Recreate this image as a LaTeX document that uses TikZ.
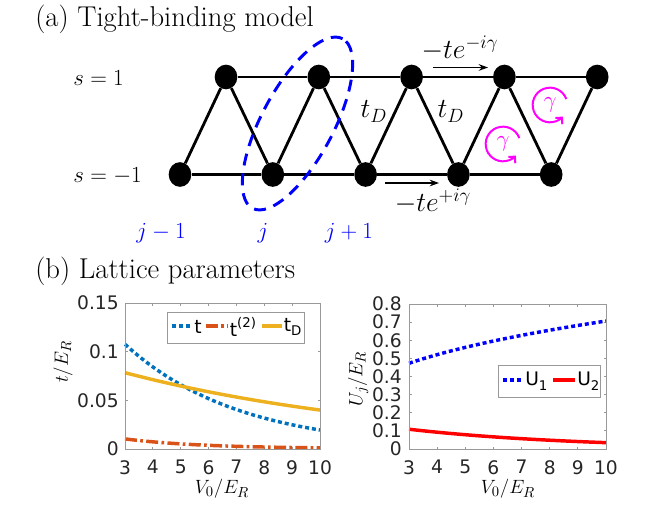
\documentclass[tikz,border=0pt]{standalone}
\usepackage{fontspec}
\newfontfamily\plotfont{DejaVu Sans}
\usetikzlibrary{arrows.meta,shapes.geometric}
\definecolor{mblue}{rgb}{0,0.447,0.741}
\definecolor{morange}{rgb}{0.85,0.325,0.098}
\definecolor{myellow}{rgb}{0.929,0.694,0.125}
\definecolor{mmag}{rgb}{1,0,1}
\definecolor{axgray}{gray}{0.6}
\definecolor{ticktext}{gray}{0.15}
\newcommand\lsub[1]{\raisebox{-0.45ex}{\fontsize{10}{10}\selectfont #1}}
\newcommand\lsup[1]{\raisebox{0.9ex}{\fontsize{10}{10}\selectfont #1}}
\begin{document}
\begin{tikzpicture}[x=0.75pt,y=-0.75pt,
  site/.style={ellipse, fill=black, inner sep=0pt, minimum width=17pt, minimum height=18.5pt},
  bond/.style={line width=2.1pt},
  hop/.style={-{Stealth[length=7pt,width=5pt]}, line width=1pt},
  title/.style={font=\fontsize{21.5}{26}\selectfont, anchor=west, inner sep=0pt},
  slab/.style={font=\fontsize{16}{19}\selectfont, anchor=west, inner sep=0pt},
  bigm/.style={font=\fontsize{22}{26}\selectfont, inner sep=0pt},
  jlab/.style={font=\fontsize{17}{20}\selectfont, text=blue, inner sep=0pt},
  gam/.style={mmag, line width=1.5pt, -{Straight Barb[length=3.5pt,width=7pt]}},
  gamlab/.style={font=\fontsize{18}{20}\selectfont, text=mmag, inner sep=0pt},
  axbox/.style={draw=axgray, line width=0.6pt},
  tk/.style={axgray, line width=0.6pt},
  ticklab/.style={font=\plotfont\fontsize{14}{16}\selectfont, text=ticktext, inner sep=0pt},
  axlab/.style={font=\fontsize{15}{18}\selectfont, inner sep=0pt},
  leg/.style={font=\plotfont\fontsize{14}{16}\selectfont, text=black, inner sep=0pt, anchor=west},
  dotl/.style={line width=2.6pt, dash pattern=on 3pt off 2.2pt},
  dashdotl/.style={line width=2.6pt, dash pattern=on 9pt off 2.5pt on 2pt off 2.5pt},
  solidl/.style={line width=2.6pt}
]
\useasboundingbox (0,0) rectangle (652,516);

% ---------- (a) ----------
\node[title] (ta) at (35,19) {(a) Tight-binding model};
\node[slab] (s1) at (73,78) {$s=1$};
\node[slab] (s2) at (73,176) {$s=-1$};

\foreach \i in {0,...,4}{
  \node[site] (T\i) at ({226+92.8*\i},77) {};
  \node[site] (B\i) at ({180+92.8*\i},174.5) {};
}
\foreach \i/\j in {0/1,1/2,2/3,3/4}{
  \draw[bond] (T\i) -- (T\j);
  \draw[bond] (B\i) -- (B\j);
  \draw[bond] (T\i) -- (B\j);
}
\foreach \i in {0,...,4}{
  \draw[bond] (B\i) -- (T\i);
}

% unit cell
\draw[blue, line width=2.2pt, dash pattern=on 9pt off 6pt, shift={(297.5,123.5)}, rotate=62]
  (0,0) ellipse [x radius=72pt, y radius=27pt];

% hoppings
\coordinate (ua) at (433,67.5);
\coordinate (ub) at (488,67.5);
\draw[hop] (ua) -- (ub);
\coordinate (la) at (385,183);
\coordinate (lb) at (439,183);
\draw[hop] (la) -- (lb);
\node[bigm, anchor=base] (hu) at (460,59) {$-te^{-i\gamma}$};
\node[bigm, anchor=base] (hl) at (433,212) {$-te^{+i\gamma}$};
\node[bigm, anchor=base] (td1) at (374,118) {$t_D$};
\node[bigm, anchor=base] (td2) at (451,118) {$t_D$};

% flux
\coordinate (g1) at (550,105);
\coordinate (g2) at (503,144);
\draw[gam] ([shift={(20:13pt)}]g1) arc[start angle=20, end angle=318, radius=13pt];
\draw[gam] ([shift={(20:13pt)}]g2) arc[start angle=20, end angle=318, radius=13pt];
\node[gamlab] (gl1) at (g1) {$\gamma$};
\node[gamlab] (gl2) at (g2) {$\gamma$};

% cell labels
\node[jlab] (j0) at (161,233) {$j-1$};
\node[jlab] (j1) at (263,233) {$j$};
\node[jlab] (j2) at (349,233) {$j+1$};

% ---------- (b) ----------
\node[title] (tb) at (35,271) {(b) Lattice parameters};

% left axes
\foreach \v in {3,...,10}{
  \draw[tk] ({125+27.857*(\v-3)},449) -- ++(0,-2.5);
  \draw[tk] ({125+27.857*(\v-3)},303) -- ++(0,2.5);
  \node[ticklab, anchor=north] at ({125+27.857*(\v-3)},460) {\v};
}
\foreach \yv/\lab in {0/0,0.05/0.05,0.1/0.1,0.15/0.15}{
  \draw[tk] (125,{449-973.3*\yv}) -- ++(2.5,0);
  \draw[tk] (320,{449-973.3*\yv}) -- ++(-2.5,0);
  \node[ticklab, anchor=east] at (119,{449-973.3*\yv}) {\lab};
}
\draw[dotl, mblue] plot[domain=3:10, samples=60] ({125+27.857*(\x-3)},{449-973.3*0.1076*exp(-0.244*(\x-3))});
\draw[dashdotl, morange] plot[domain=3:10, samples=60] ({125+27.857*(\x-3)},{449-973.3*(0.0100*exp(-0.36*(\x-3))+0.0004)});
\draw[solidl, myellow] plot[domain=3:10, samples=60] ({125+27.857*(\x-3)},{449-973.3*0.0784*exp(-0.0961*(\x-3))});
\draw[axbox] (125,303) rectangle (320,449);
\node[axlab, rotate=90] (yl1) at (63,362) {$t/E_R$};
\node[axlab] (xl1) at (222,489) {$V_0/E_R$};

% left legend
\draw[axbox, fill=white] (167,312) rectangle (304,343);
\draw[dotl, mblue] (172,326) -- (191,326);
\node[leg] at (194,327) {t};
\draw[dashdotl, morange] (206,326) -- (228,326);
\node[leg] at (229.5,327) {t\lsup{(2)}};
\draw[solidl, myellow] (262,326) -- (282,326);
\node[leg] at (283.5,327) {t\lsub{D}};

% right axes
\foreach \v in {3,...,10}{
  \draw[tk] ({409+28.14*(\v-3)},449) -- ++(0,-2.5);
  \draw[tk] ({409+28.14*(\v-3)},304) -- ++(0,2.5);
  \node[ticklab, anchor=north] at ({409+28.14*(\v-3)},460) {\v};
}
\foreach \yv/\lab in {0/0,0.1/0.1,0.2/0.2,0.3/0.3,0.4/0.4,0.5/0.5,0.6/0.6,0.7/0.7,0.8/0.8}{
  \draw[tk] (409,{449-181.25*\yv}) -- ++(2.5,0);
  \draw[tk] (606,{449-181.25*\yv}) -- ++(-2.5,0);
  \node[ticklab, anchor=east] at (402,{449-181.25*\yv}) {\lab};
}
\draw[dotl, blue] plot[domain=3:10, samples=60] ({409+28.14*(\x-3)},{449-181.25*0.473*(\x/3)^0.3327});
\draw[solidl, red] plot[domain=3:10, samples=60] ({409+28.14*(\x-3)},{449-181.25*0.109*exp(-0.1623*(\x-3))});
\draw[axbox] (409,304) rectangle (606,449);
\node[axlab, rotate=90] (yl2) at (358,379) {$U_j/E_R$};
\node[axlab] (xl2) at (508,489) {$V_0/E_R$};

% right legend
\draw[axbox, fill=white] (498,365) rectangle (600,397);
\draw[dotl, blue] (503,380) -- (523,380);
\node[leg] at (525,381) {U\lsub{1}};
\draw[solidl, red] (553,380) -- (575,380);
\node[leg] at (577,381) {U\lsub{2}};
\end{tikzpicture}
\end{document}
